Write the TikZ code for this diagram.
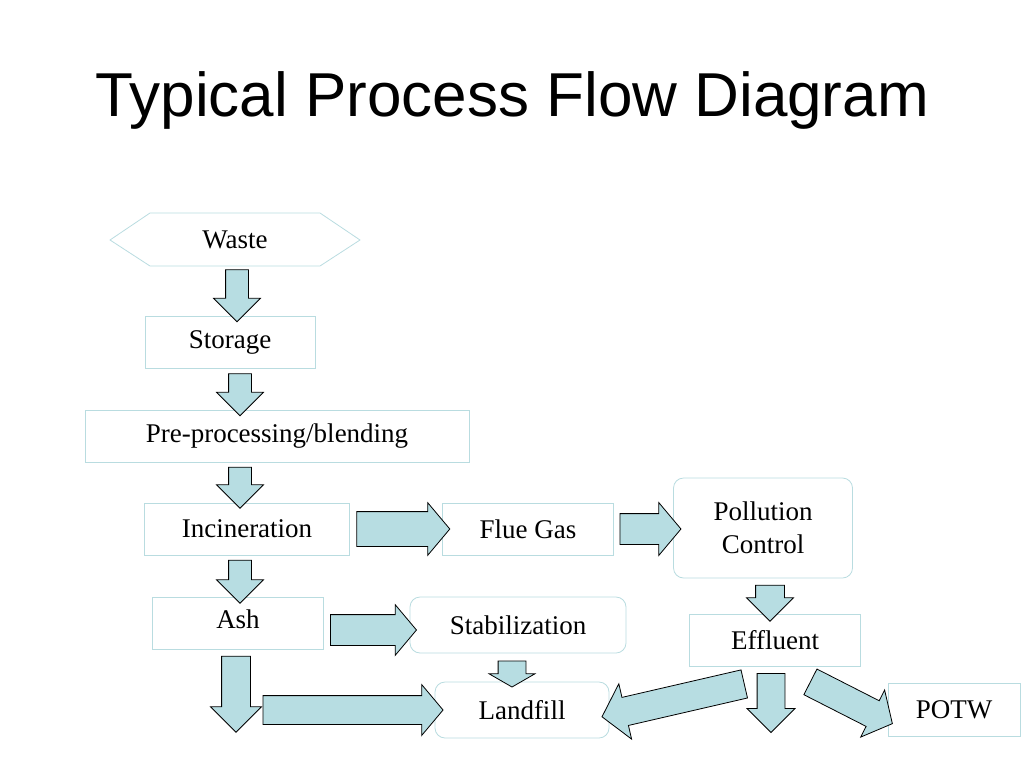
\documentclass[tikz,border=0pt]{standalone}
\usepackage{fontspec}
\setmainfont{Liberation Serif}
\newfontfamily\titlefont{Liberation Sans}
\usetikzlibrary{shapes.arrows}
\definecolor{boxline}{HTML}{B9DCE0}
\definecolor{arrowfill}{HTML}{B7DDE2}

\tikzset{
  box/.style = {draw=boxline, line width=0.8pt, fill=white, font=\fontsize{27}{31}\selectfont, align=center, inner sep=0pt},
  roundbox/.style = {box, rounded corners=10pt},
  flow/.style = {single arrow, draw=black, line width=0.8pt, fill=arrowfill, inner xsep=0pt, single arrow head indent=0pt}
}

\begin{document}
\begin{tikzpicture}[x=1pt, y=-1pt]
    \useasboundingbox (0,0) rectangle (1024,768);
    \node[font=\titlefont\fontsize{62}{70}\selectfont] (title) at (512,100) {Typical Process Flow Diagram};
    % boxes
    \draw[draw=boxline, line width=0.8pt] (110,240) -- (150,213) -- (320,213) -- (360,240) -- (320,266) -- (150,266) -- cycle;
    \node[font=\fontsize{27}{31}\selectfont] (waste) at (235,240) {Waste};
    \node[box, minimum width=170, minimum height=52] (storage) at (230,342) {Storage};
    \node[box, minimum width=384, minimum height=52] (pre) at (277,436) {Pre-processing/blending};
    \node[box, minimum width=205, minimum height=52] (incin) at (247,529) {Incineration};
    \node[box, minimum width=171, minimum height=52] (flue) at (528,529) {Flue Gas};
    \node[roundbox, minimum width=179, minimum height=100] (poll) at (763,528) {Pollution\\[2pt]Control};
    \node[box, minimum width=171, minimum height=52, anchor=north] (ash) at (238,597) {\raisebox{8pt}{Ash}};
    \node[roundbox, minimum width=216, minimum height=56] (stab) at (518,625) {Stabilization};
    \node[box, minimum width=171, minimum height=52] (effl) at (775,640) {Effluent};
    \node[roundbox, minimum width=174, minimum height=56] (land) at (522,710) {Landfill};
    \node[box, minimum width=132, minimum height=53] (potw) at (954,710) {POTW};
    % arrows
    \node[flow, minimum height=52, inner ysep=11, single arrow head extend=12, rotate=-90] (a1) at (237,290) {};
    \node[flow, minimum height=42, inner ysep=11, single arrow head extend=12, rotate=-90] (a2) at (240,389) {};
    \node[flow, minimum height=41, inner ysep=11, single arrow head extend=12, rotate=-90] (a3) at (240,482) {};
    \node[flow, minimum height=43, inner ysep=11, single arrow head extend=12, rotate=-90] (a4) at (240,576) {};
    \node[flow, minimum height=93, inner ysep=17, single arrow head extend=9, single arrow tip angle=100] (a5) at (396,529) {};
    \node[flow, minimum height=61, inner ysep=15, single arrow head extend=11, single arrow tip angle=100] (a6) at (644,529) {};
    \node[flow, minimum height=36, inner ysep=14, single arrow head extend=9, rotate=-90] (a7) at (770,596) {};
    \node[flow, minimum height=86, inner ysep=15, single arrow head extend=10, single arrow tip angle=100] (a8) at (367,630) {};
    \node[flow, minimum height=26, inner ysep=13.5, single arrow head extend=9, single arrow tip angle=120, rotate=-90] (a9) at (512,670) {};
    \node[flow, minimum height=76, inner ysep=14, single arrow head extend=11, rotate=-90] (a10) at (236,687) {};
    \node[flow, minimum height=180, inner ysep=14, single arrow head extend=11, single arrow tip angle=100] (a11) at (347,710) {};
    \node[flow, minimum height=146, inner ysep=14, single arrow head extend=14, single arrow tip angle=100, rotate=193] (a12) at (679,699) {};
    \node[flow, minimum height=59, inner ysep=13.5, single arrow head extend=10, rotate=-90] (a13) at (771,696) {};
    \node[flow, minimum height=92, inner ysep=14, single arrow head extend=12, single arrow tip angle=100, rotate=-27] (a14) at (846,700) {};
\end{tikzpicture}
\end{document}
